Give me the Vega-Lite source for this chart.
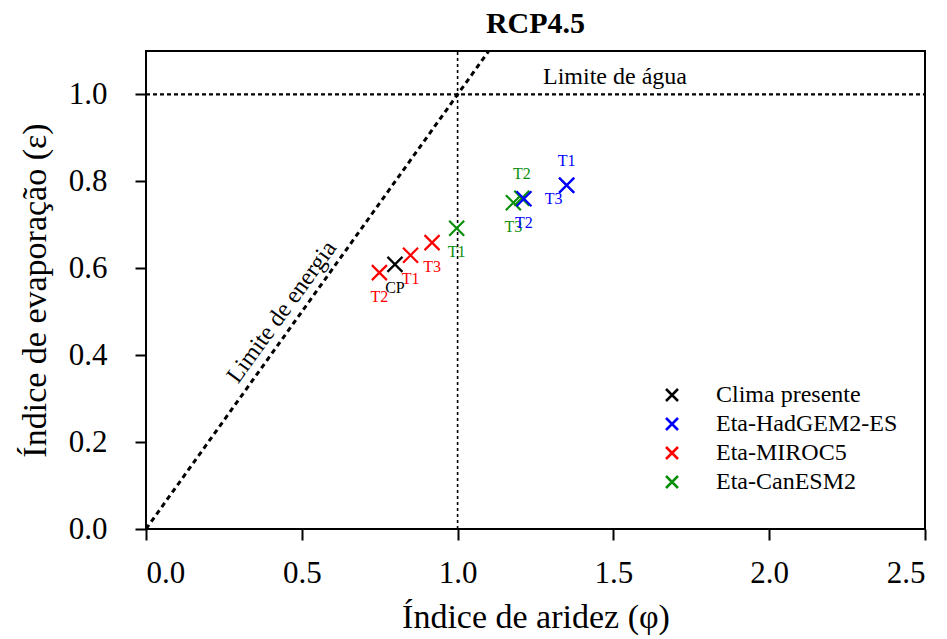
{
  "$schema": "https://vega.github.io/schema/vega-lite/v6.json",
  "autosize": "none",
  "padding": {"left": 146, "top": 51, "right": 22, "bottom": 110},
  "width": 779,
  "height": 478,
  "title": {"text": "RCP4.5", "fontSize": 30, "fontWeight": "bold", "font": "Liberation Serif", "anchor": "middle", "frame": "group", "offset": 12, "color": "black"},
  "config": {
    "font": "Liberation Serif",
    "view": {"stroke": "black", "strokeWidth": 2},
    "axis": {"grid": false, "domain": false, "ticks": true, "tickColor": "black", "tickWidth": 2, "tickSize": 11,
      "labelFont": "Liberation Serif", "labelFontSize": 31, "labelColor": "black",
      "titleFont": "Liberation Serif", "titleFontSize": 34, "titleFontWeight": "normal", "titleColor": "black"}
  },
  "datasets": {
    "pts": [
      {"modelo": "Clima presente", "periodo": "CP", "phi": 0.799, "eps": 0.609},
      {"modelo": "Eta-MIROC5", "periodo": "T2", "phi": 0.749, "eps": 0.590},
      {"modelo": "Eta-MIROC5", "periodo": "T1", "phi": 0.849, "eps": 0.630},
      {"modelo": "Eta-MIROC5", "periodo": "T3", "phi": 0.918, "eps": 0.659},
      {"modelo": "Eta-CanESM2", "periodo": "T1", "phi": 0.997, "eps": 0.692},
      {"modelo": "Eta-CanESM2", "periodo": "T3", "phi": 1.179, "eps": 0.751},
      {"modelo": "Eta-CanESM2", "periodo": "T2", "phi": 1.206, "eps": 0.761},
      {"modelo": "Eta-HadGEM2-ES", "periodo": "T2", "phi": 1.213, "eps": 0.760},
      {"modelo": "Eta-HadGEM2-ES", "periodo": "T1", "phi": 1.350, "eps": 0.791},
      {"modelo": "Eta-HadGEM2-ES", "periodo": "T3", "phi": 1.350, "eps": 0.791}
    ],
    "energia": [{"phi": 0, "eps": 0}, {"phi": 1.1, "eps": 1.1}],
    "agua": [{"phi": 0, "eps": 1}, {"phi": 2.5, "eps": 1}],
    "vertical": [{"phi": 1, "eps": 0}, {"phi": 1, "eps": 1.1}],
    "rotulo_agua": [{"phi": 1.505, "eps": 1.023, "texto": "Limite de água"}],
    "rotulo_energia": [{"phi": 0.436, "eps": 0.499, "texto": "Limite de energia"}]
  },
  "encoding": {
    "x": {"field": "phi", "type": "quantitative", "scale": {"domain": [0, 2.5], "nice": false, "zero": false},
      "axis": {"title": "Índice de aridez (φ)", "values": [0, 0.5, 1, 1.5, 2, 2.5], "format": ".1f", "labelPadding": 18, "titlePadding": 12}},
    "y": {"field": "eps", "type": "quantitative", "scale": {"domain": [0, 1.1], "nice": false, "zero": false},
      "axis": {"title": "Índice de evaporação (ε)", "values": [0, 0.2, 0.4, 0.6, 0.8, 1.0], "format": ".1f", "labelPadding": 28, "titlePadding": 16}}
  },
  "layer": [
    {"data": {"name": "energia"}, "mark": {"type": "line", "color": "black", "strokeWidth": 3, "strokeDash": [5, 4], "clip": true}},
    {"data": {"name": "agua"}, "mark": {"type": "line", "color": "black", "strokeWidth": 2.2, "strokeDash": [4, 3], "clip": true}},
    {"data": {"name": "vertical"}, "mark": {"type": "line", "color": "black", "strokeWidth": 1.6, "strokeDash": [3, 3], "clip": true}},
    {"data": {"name": "rotulo_agua"}, "mark": {"type": "text", "fontSize": 24, "align": "center", "baseline": "alphabetic", "color": "black"},
      "encoding": {"text": {"field": "texto"}}},
    {"data": {"name": "rotulo_energia"}, "mark": {"type": "text", "fontSize": 24, "align": "center", "baseline": "middle", "angle": -54, "color": "black"},
      "encoding": {"text": {"field": "texto"}}},
    {"data": {"name": "pts"},
      "mark": {"type": "point", "shape": "M-1,-1L1,1M-1,1L1,-1", "filled": false, "size": 225, "strokeWidth": 2.2, "opacity": 1},
      "encoding": {
        "color": {"field": "modelo", "type": "nominal",
          "scale": {"domain": ["Clima presente", "Eta-HadGEM2-ES", "Eta-MIROC5", "Eta-CanESM2"], "range": ["#000000", "#0000ff", "#ff0000", "#0a8f0a"]},
          "legend": {"title": null, "orient": "none", "legendX": 514, "legendY": 332, "padding": 0,
            "symbolType": "M-1,-1L1,1M-1,1L1,-1", "symbolSize": 144, "symbolStrokeWidth": 2.5, "symbolFillColor": "transparent",
            "labelFont": "Liberation Serif", "labelFontSize": 24, "labelColor": "black", "labelOffset": 32, "rowPadding": 5, "labelLimit": 400}},
        "order": {"field": "modelo"}
      }},
    {"data": {"name": "pts"},
      "transform": [{"filter": "!((datum.modelo == 'Eta-CanESM2' && datum.periodo == 'T2') || (datum.modelo == 'Eta-HadGEM2-ES' && (datum.periodo == 'T1' || datum.periodo == 'T3')))"}],
      "mark": {"type": "text", "fontSize": 16, "align": "center", "baseline": "middle", "dy": 24},
      "encoding": {"text": {"field": "periodo"},
        "color": {"field": "modelo", "type": "nominal", "legend": null}}},
    {"data": {"name": "pts"},
      "transform": [{"filter": "(datum.modelo == 'Eta-CanESM2' && datum.periodo == 'T2') || (datum.modelo == 'Eta-HadGEM2-ES' && datum.periodo == 'T1')"}],
      "mark": {"type": "text", "fontSize": 16, "align": "center", "baseline": "middle", "dy": -24},
      "encoding": {"text": {"field": "periodo"},
        "color": {"field": "modelo", "type": "nominal", "legend": null}}},
    {"data": {"name": "pts"},
      "transform": [{"filter": "datum.modelo == 'Eta-HadGEM2-ES' && datum.periodo == 'T3'"}],
      "mark": {"type": "text", "fontSize": 16, "align": "center", "baseline": "middle", "dx": -13, "dy": 14},
      "encoding": {"text": {"field": "periodo"},
        "color": {"field": "modelo", "type": "nominal", "legend": null}}}
  ]
}
